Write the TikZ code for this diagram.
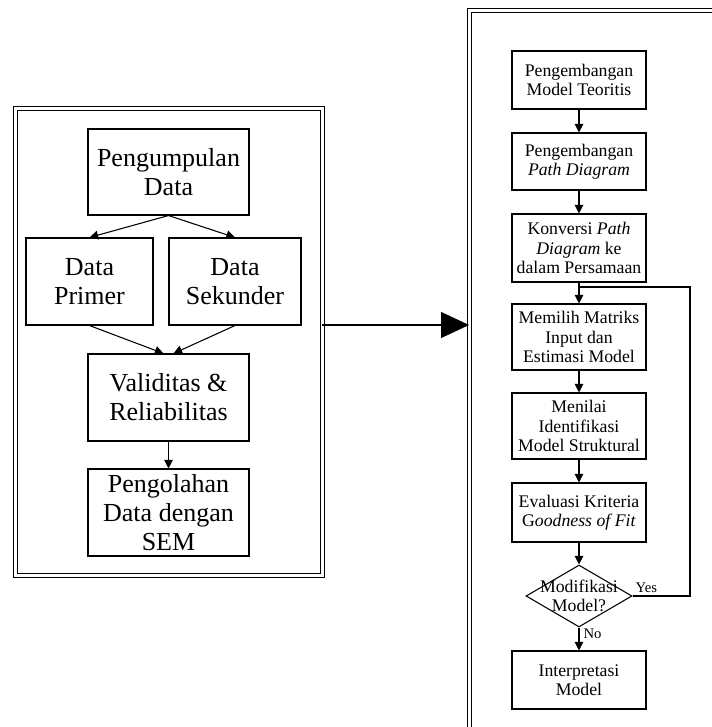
\documentclass[tikz,border=0pt]{standalone}
\usepackage{fontspec}
\setmainfont{Liberation Serif}
\usetikzlibrary{arrows.meta, shapes.geometric}

\tikzset{
	frame/.style = {draw, double, double distance=2.25pt, line width=0.75pt, inner sep=0pt, outer sep=0pt},
	bigbox/.style = {draw, line width=0.8pt, align=center, inner sep=0.5pt, font=\fontsize{19.5}{21.75}\selectfont},
	box/.style = {draw, line width=0.8pt, align=center, inner sep=1pt, minimum width=100.5pt, font=\fontsize{13.3}{14.5}\selectfont},
	decision/.style = {draw, diamond, line width=0.8pt, inner sep=0pt, minimum width=79.5pt, minimum height=46.5pt, font=\fontsize{13.3}{14.5}\selectfont},
	lbl/.style = {inner sep=2pt, font=\fontsize{11}{13}\selectfont},
	link/.style = {-{Triangle[length=6.5pt, width=6.5pt]}, line width=0.8pt},
	bigarrow/.style = {-{Triangle[length=21pt, width=19.5pt]}, line width=0.8pt}
}

\begin{document}
\begin{tikzpicture}[x=0.75pt, y=-0.75pt]
	\path[use as bounding box, clip] (0,0) rectangle (712,727);

	% left panel
	\node[frame, minimum width=230.25pt, minimum height=349.5pt] (kiri) at (168.5,342) {};
	\node[bigbox, minimum width=120.75pt, minimum height=64.5pt] (kumpul) at (168.5,172) {Pengumpulan\\Data};
	\node[bigbox, minimum width=95.25pt, minimum height=65.25pt] (primer) at (89.5,281.5) {Data\\Primer};
	\node[bigbox, minimum width=99pt, minimum height=65.25pt] (sekunder) at (235,281.5) {Data\\Sekunder};
	\node[bigbox, minimum width=120.75pt, minimum height=65.25pt] (valid) at (168.5,397.5) {Validitas \&\\Reliabilitas};
	\node[bigbox, minimum width=120.75pt, minimum height=65.25pt] (olah) at (168.5,512.5) {Pengolahan\\Data dengan\\SEM};
	\draw[link] (kumpul.south) -- (primer.north);
	\draw[link] (kumpul.south) -- (sekunder.north);
	\draw[link] (primer.south) -- ([xshift=-3.75pt]valid.north);
	\draw[link] (sekunder.south) -- ([xshift=3.75pt]valid.north);
	\draw[link] (valid) -- (olah);

	% right panel
	\node[frame, minimum width=225pt, minimum height=570pt] (kanan) at (619,391) {};
	\node[box, minimum height=43.5pt] (teori) at (579,80) {Pengembangan\\Model Teoritis};
	\node[box, minimum height=42.75pt] (path) at (579,161.5) {Pengembangan\\\textit{Path Diagram}};
	\node[box, minimum height=51pt] (konversi) at (579,248) {Konversi \textit{Path}\\\textit{Diagram} ke\\dalam Persamaan};
	\node[box, minimum height=49.5pt] (matriks) at (579,337) {Memilih Matriks\\Input dan\\Estimasi Model};
	\node[box, minimum height=49.5pt] (identifikasi) at (579,426) {Menilai\\Identifikasi\\Model Struktural};
	\node[box, minimum height=44.25pt] (evaluasi) at (579,512.5) {Evaluasi Kriteria\\G\textit{oodness of Fit}};
	\node[decision] (modif) at (579,596) {\smash{\makebox[0pt]{\raisebox{-5.25pt}{\begin{tabular}{@{}c@{}}Modifikasi\\Model?\end{tabular}}}}};
	\node[box, minimum height=43.5pt] (interpretasi) at (579,680) {Interpretasi\\Model};
	\coordinate (cabang) at (579,287);
	\coordinate (sudut) at (690,596);
	\draw[link] (teori) -- (path);
	\draw[link] (path) -- (konversi);
	\draw[link] (konversi) -- (matriks);
	\draw[link] (matriks) -- (identifikasi);
	\draw[link] (identifikasi) -- (evaluasi);
	\draw[link] (evaluasi) -- (modif);
	\draw[link] (modif.south) -- node[lbl, pos=0.27, anchor=west, inner sep=3pt] (tidak) {No} (interpretasi.north);
	\draw[line width=0.8pt] (modif.east) -- node[lbl, pos=0, anchor=south west] (ya) {Yes} (sudut) |- (cabang);

	% link between panels
	\coordinate (sambung) at (400,325);
	\draw[bigarrow] (kiri.east |- sambung) -- (kanan.west |- sambung);
\end{tikzpicture}
\end{document}
